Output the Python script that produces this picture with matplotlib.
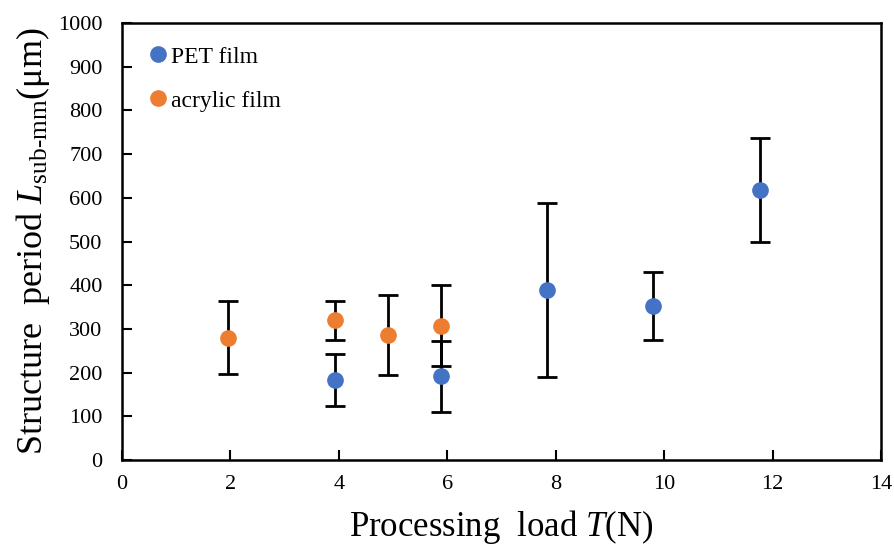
import matplotlib.pyplot as plt

plt.rcParams["font.family"] = ["Liberation Serif", "DejaVu Serif"]
plt.rcParams["mathtext.fontset"] = "custom"
plt.rcParams["mathtext.rm"] = "Liberation Serif"
plt.rcParams["mathtext.it"] = "Liberation Serif:italic"

# PET film
pet_load = [3.92, 5.88, 7.84, 9.8, 11.76]
pet_period = [183, 192, 389, 353, 618]
pet_err = [60, 81, 200, 78, 119]

# acrylic film
acr_load = [1.96, 3.92, 4.9, 5.88]
acr_period = [280, 320, 286, 307]
acr_err = [83, 45, 91, 93]

fig = plt.figure(figsize=(8.95, 5.47), dpi=100)
ax = fig.add_axes([0.1363, 0.159, 0.8481, 0.799])

ax.errorbar(pet_load, pet_period, yerr=pet_err, fmt="o", color="#4472C4",
            ms=11, ecolor="black", elinewidth=2, capsize=7, capthick=2,
            label="PET film", zorder=3)
ax.errorbar(acr_load, acr_period, yerr=acr_err, fmt="o", color="#ED7D31",
            ms=11, ecolor="black", elinewidth=2, capsize=7, capthick=2,
            label="acrylic film", zorder=3)

ax.set_xlim(0, 14)
ax.set_ylim(0, 1000)
ax.set_xticks(range(0, 15, 2))
ax.set_yticks(range(0, 1001, 100))
ax.tick_params(direction="in", length=7, width=1.5, labelsize=16, pad=11)
ax.tick_params(axis="y", pad=14)
for s in ax.spines.values():
    s.set_linewidth(1.8)

ax.set_xlabel("Processing  load $\\it{T}$(N)", fontsize=25, labelpad=10)
ax.set_ylabel("Structure  period $\\it{L}_{\\rm sub\\text{-}mm}$(μm)", fontsize=26, labelpad=4)

handles, labels = ax.get_legend_handles_labels()
handles = [h[0] for h in handles]
ax.legend(handles, labels, loc="upper left", frameon=False, fontsize=17,
          handletextpad=0.0, handlelength=1.1, labelspacing=0.95,
          borderaxespad=0.3, bbox_to_anchor=(0.008, 0.985))

fig.savefig("out.png", dpi=100)
